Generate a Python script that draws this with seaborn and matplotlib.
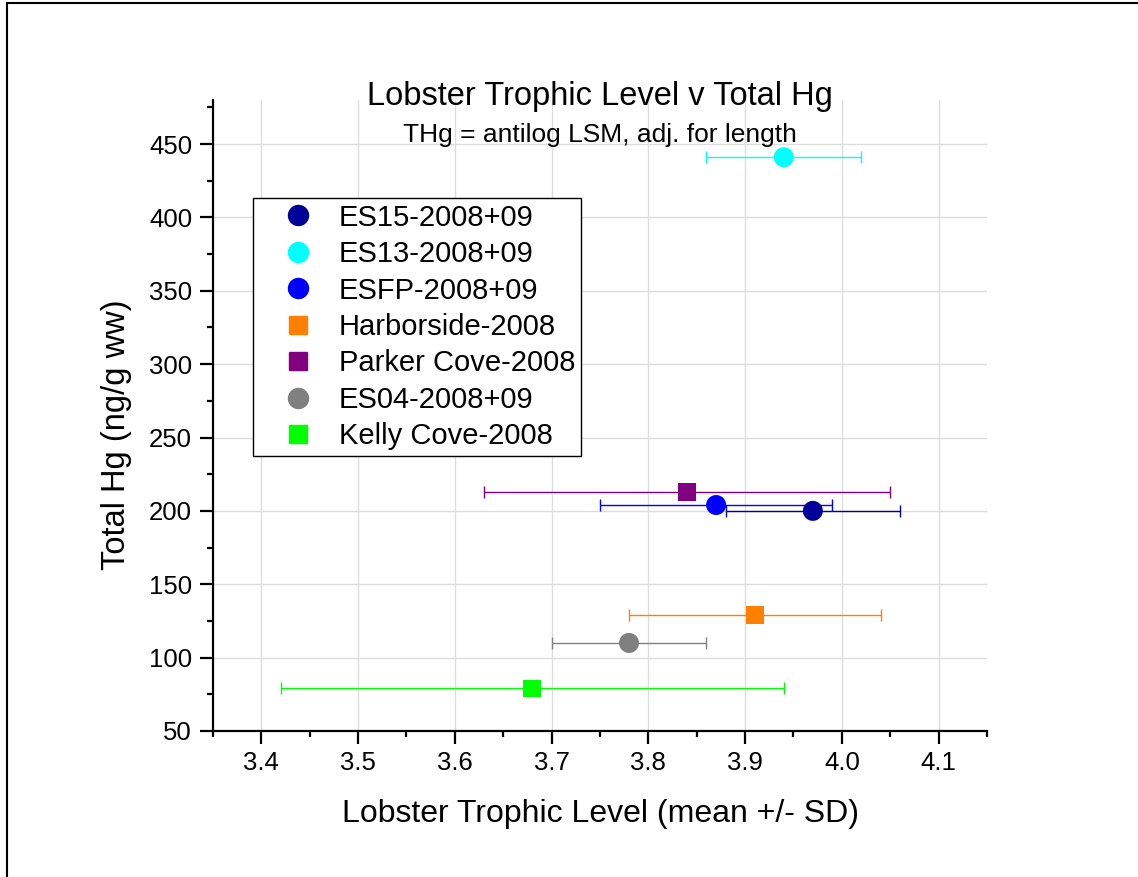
import numpy as np
import pandas as pd
import matplotlib.pyplot as plt
import seaborn as sns
from matplotlib.lines import Line2D

# Dados
sites = ["ES15-2008+09", "ES13-2008+09", "ESFP-2008+09", "Harborside-2008",
         "Parker Cove-2008", "ES04-2008+09", "Kelly Cove-2008"]
trophic_mean = [3.97, 3.94, 3.87, 3.91, 3.84, 3.78, 3.68]
trophic_sd = [0.09, 0.08, 0.12, 0.13, 0.21, 0.08, 0.26]
total_hg = [200, 441, 204, 129, 213, 110, 79]
markers = ["o", "o", "o", "s", "s", "o", "s"]
colors = ["#000099", "#00FFFF", "#0000FF", "#FF8000", "#800080", "#808080", "#00FF00"]

df = pd.DataFrame({"site": sites, "tl": trophic_mean, "sd": trophic_sd, "hg": total_hg})

sns.set_style("white")
plt.rcParams["font.family"] = ["Liberation Sans", "DejaVu Sans"]
plt.rcParams.update({"text.color": "black", "axes.labelcolor": "black",
                     "xtick.color": "black", "ytick.color": "black"})

fig = plt.figure(figsize=(11.38, 8.77), dpi=100)
ax = fig.add_axes([213 / 1138, 146 / 877, 774 / 1138, 631 / 877])

# barras de erro
for i, row in df.iterrows():
    ax.errorbar(row.tl, row.hg, xerr=row.sd, fmt="none", ecolor=colors[i],
                elinewidth=1.0, capsize=4.6, capthick=1.0, zorder=2)

palette = dict(zip(sites, colors))
circ = df[[m == "o" for m in markers]]
sq = df[[m == "s" for m in markers]]
sns.scatterplot(data=circ, x="tl", y="hg", hue="site", palette=palette,
                marker="o", s=207, edgecolor="none", legend=False, ax=ax, zorder=3)
sns.scatterplot(data=sq, x="tl", y="hg", hue="site", palette=palette,
                marker="s", s=160, edgecolor="none", legend=False, ax=ax, zorder=3)

ax.set_xlim(3.35, 4.15)
ax.set_ylim(50, 480)
ax.set_xticks(np.arange(3.4, 4.15, 0.1))
ax.set_xticks(np.arange(3.35, 4.16, 0.05), minor=True)
ax.set_yticks(np.arange(50, 451, 50))
ax.set_yticks(np.arange(50, 476, 25), minor=True)
ax.xaxis.set_major_formatter(plt.FormatStrFormatter("%.1f"))
ax.grid(True, which="major", color="#dddddd", linewidth=1)
ax.set_axisbelow(True)
sns.despine(ax=ax)
for s in ["left", "bottom"]:
    ax.spines[s].set_color("black")
    ax.spines[s].set_linewidth(1.6)
ax.tick_params(axis="both", which="major", direction="out", length=9.5, width=1.6,
               labelsize=18.5, bottom=True, left=True)
ax.tick_params(axis="both", which="minor", direction="out", length=4.5, width=1.6,
               bottom=True, left=True)
ax.tick_params(axis="x", which="major", pad=5)
ax.tick_params(axis="y", which="major", pad=5.5)

ax.set_xlabel("Lobster Trophic Level (mean +/- SD)", fontsize=23)
ax.set_ylabel("Total Hg (ng/g ww)", fontsize=23.5)
ax.xaxis.set_label_coords(0.5, -0.108)
ax.yaxis.set_label_coords(-0.105, 0.47)

fig.text(600 / 1138, 1 - 97 / 877, "Lobster Trophic Level v Total Hg",
         ha="center", va="center", fontsize=23.5)
ax.text(0.5, 0.944, "THg = antilog LSM, adj. for length", transform=ax.transAxes,
        ha="center", va="center", fontsize=19)

handles = [Line2D([], [], linestyle="none", marker=m, color=c,
                  markersize=14.4 if m == "o" else 12.7)
           for m, c in zip(markers, colors)]
leg = ax.legend(handles, sites, loc="upper left", bbox_to_anchor=(0.0517, 0.845),
                borderaxespad=0, fontsize=21, frameon=True, fancybox=False,
                framealpha=1, edgecolor="black", handletextpad=0.05,
                labelspacing=0.29, borderpad=0.2, handlelength=2.7)
leg.get_frame().set_linewidth(1.0)

# moldura
fig.add_artist(Line2D([0.006, 0.006], [0, 0.997], color="black", lw=1.5, transform=fig.transFigure))
fig.add_artist(Line2D([0.006, 1.0], [0.997, 0.997], color="black", lw=1.5, transform=fig.transFigure))

fig.savefig("out.png", dpi=100)
